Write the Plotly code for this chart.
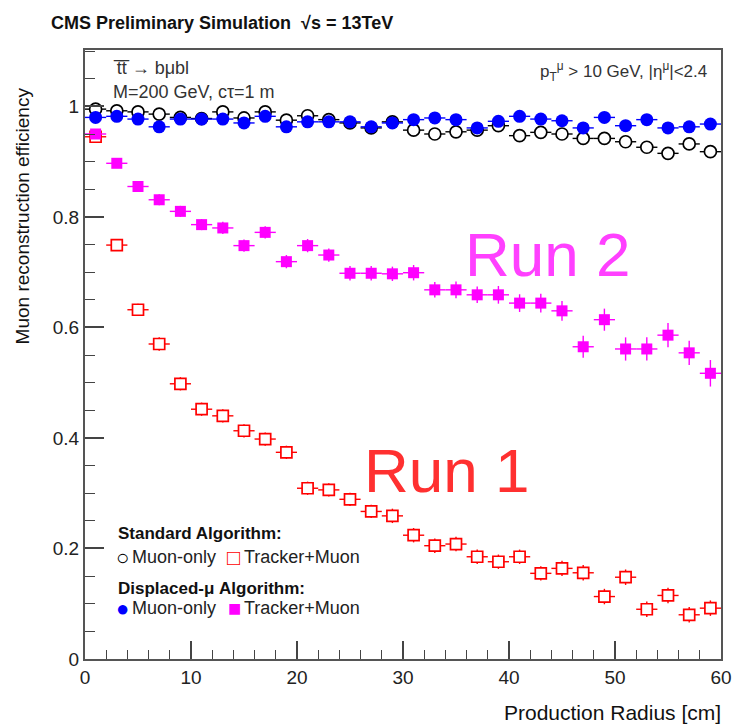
import plotly.graph_objects as go

# Bin centres of the production radius (2 cm bins)
radius = [1, 3, 5, 7, 9, 11, 13, 15, 17, 19, 21, 23, 25, 27, 29,
          31, 33, 35, 37, 39, 41, 43, 45, 47, 49, 51, 53, 55, 57, 59]
bin_half_width = [1] * 30

# Standard algorithm, muon-only (open black circles)
std_muon_only = [0.995, 0.992, 0.990, 0.986, 0.980, 0.978, 0.990, 0.979, 0.990, 0.975,
                 0.983, 0.976, 0.970, 0.961, 0.972, 0.957, 0.950, 0.954, 0.957, 0.965,
                 0.947, 0.953, 0.950, 0.942, 0.942, 0.936, 0.926, 0.915, 0.932, 0.918]
std_muon_only_err = [0.003, 0.003, 0.003, 0.003, 0.003, 0.003, 0.003, 0.003, 0.004, 0.004,
                     0.004, 0.004, 0.004, 0.004, 0.004, 0.005, 0.005, 0.005, 0.005, 0.005,
                     0.005, 0.005, 0.006, 0.006, 0.006, 0.006, 0.006, 0.007, 0.007, 0.007]

# Standard algorithm, tracker+muon (open red squares)
std_trk_muon = [0.945, 0.749, 0.632, 0.570, 0.498, 0.452, 0.440, 0.413, 0.398, 0.374,
                0.309, 0.306, 0.289, 0.267, 0.259, 0.224, 0.205, 0.208, 0.185, 0.176,
                0.185, 0.155, 0.164, 0.156, 0.113, 0.148, 0.090, 0.115, 0.080, 0.092]
std_trk_muon_err = [0.008, 0.010, 0.011, 0.012, 0.012, 0.012, 0.012, 0.012, 0.012, 0.012,
                    0.012, 0.012, 0.012, 0.012, 0.013, 0.013, 0.013, 0.013, 0.013, 0.013,
                    0.013, 0.013, 0.014, 0.014, 0.014, 0.014, 0.014, 0.014, 0.014, 0.014]

# Displaced-mu algorithm, muon-only (filled blue circles)
disp_muon_only = [0.980, 0.982, 0.977, 0.963, 0.977, 0.977, 0.977, 0.970, 0.982, 0.963,
                  0.972, 0.972, 0.972, 0.963, 0.970, 0.976, 0.979, 0.976, 0.961, 0.973,
                  0.982, 0.977, 0.974, 0.961, 0.980, 0.965, 0.976, 0.961, 0.963, 0.968]
disp_muon_only_err = [0.003, 0.003, 0.003, 0.003, 0.003, 0.003, 0.003, 0.003, 0.003, 0.004,
                      0.004, 0.004, 0.004, 0.004, 0.004, 0.004, 0.004, 0.004, 0.004, 0.005,
                      0.005, 0.005, 0.005, 0.005, 0.005, 0.005, 0.005, 0.005, 0.006, 0.006]

# Displaced-mu algorithm, tracker+muon (filled magenta squares)
disp_trk_muon = [0.950, 0.897, 0.855, 0.831, 0.810, 0.786, 0.780, 0.748, 0.772, 0.719,
                 0.748, 0.731, 0.698, 0.698, 0.697, 0.699, 0.668, 0.668, 0.659, 0.659,
                 0.644, 0.644, 0.630, 0.565, 0.614, 0.561, 0.561, 0.586, 0.554, 0.517]
disp_trk_muon_err = [0.006, 0.008, 0.009, 0.010, 0.010, 0.010, 0.011, 0.011, 0.011, 0.012,
                     0.012, 0.012, 0.013, 0.013, 0.013, 0.014, 0.014, 0.015, 0.015, 0.016,
                     0.016, 0.017, 0.018, 0.020, 0.020, 0.021, 0.021, 0.022, 0.022, 0.024]

FONT = "Liberation Sans, Arial, Helvetica, sans-serif"
BLACK = "#000000"
RED = "#ff0000"
BLUE = "#0000ff"
MAGENTA = "#ff00ff"


def series(y, err, symbol, fill, edge, size=12, lw=1.7):
    return go.Scatter(
        x=radius, y=y, mode="markers",
        marker=dict(symbol=symbol, size=size, color=fill,
                    line=dict(color=edge, width=lw)),
        error_x=dict(type="data", array=bin_half_width, color=edge,
                     thickness=1.4, width=0),
        error_y=dict(type="data", array=err, color=edge,
                     thickness=1.4, width=0),
        showlegend=False, cliponaxis=False,
    )


fig = go.Figure()
fig.add_trace(series(std_muon_only, std_muon_only_err, "circle", "white", BLACK))
fig.add_trace(series(std_trk_muon, std_trk_muon_err, "square", "white", RED, size=11))
fig.add_trace(series(disp_muon_only, disp_muon_only_err, "circle", BLUE, BLUE, size=13, lw=0))
fig.add_trace(series(disp_trk_muon, disp_trk_muon_err, "square", MAGENTA, MAGENTA, size=11, lw=0))

# plot frame in pixels: x 85..730, y 50..659
L, R, T, B = 85, 730, 50, 659


def px(xp):
    return (xp - L) / (R - L)


def py(yp):
    return (B - yp) / (B - T)


def note(text, xp, yp, size, color="#111", xanchor="left", yanchor="middle",
         angle=0, bold=False):
    if bold:
        text = "<b>" + text + "</b>"
    fig.add_annotation(text=text, x=px(xp), y=py(yp), xref="paper", yref="paper",
                       xanchor=xanchor, yanchor=yanchor, showarrow=False,
                       textangle=angle, font=dict(family=FONT, size=size, color=color))


note("CMS Preliminary Simulation  √s = 13TeV", 48, 23, 18, bold=True)
note("Muon reconstruction efficiency", 22, 85, 19, yanchor="top", xanchor="center", angle=-90)
note("Production Radius [cm]", 732, 712, 21, xanchor="right")
note("t\u0305t\u0305 → bμbl", 111, 68, 18, color="#333")
note("M=200 GeV, cτ=1 m", 111, 92, 18, color="#333")
note("p<sub>T</sub><sup>μ</sup> > 10 GeV, |η<sup>μ</sup>|<2.4", 718, 72, 17,
     color="#333", xanchor="right")
note("Run 2", 468, 254, 62, color="#ff40ff")
note("Run 1", 366, 470, 62, color="#ff3030")

# legend block
note("Standard Algorithm:", 116, 533, 17, bold=True)
note("○", 123, 557, 22, color=BLACK, xanchor="center")
note("Muon-only", 131, 557, 18, color="#222")
note("□", 236, 557, 22, color=RED, xanchor="center")
note("Tracker+Muon", 244, 557, 18, color="#222")
note("Displaced-μ Algorithm:", 116, 588, 17, bold=True)
note("●", 123, 608, 22, color=BLUE, xanchor="center")
note("Muon-only", 131, 608, 18, color="#222")
note("■", 237, 608, 22, color=MAGENTA, xanchor="center")
note("Tracker+Muon", 244, 608, 18, color="#222")

axis_common = dict(
    showline=True, linecolor="#555", linewidth=2, mirror=True,
    ticks="inside", tickcolor="#444", tickwidth=1.5,
    showgrid=False, zeroline=False,
    tickfont=dict(family=FONT, size=19, color="#222"),
)

fig.update_xaxes(range=[0, 60], dtick=10, tick0=0, ticklen=18,
                 minor=dict(dtick=2, ticklen=9, ticks="inside", tickcolor="#444",
                            tickwidth=1.2, showgrid=False),
                 **axis_common)
fig.update_yaxes(range=[0, 1.102], dtick=0.2, tick0=0, ticklen=19,
                 minor=dict(dtick=0.05, ticklen=10, ticks="inside", tickcolor="#444",
                            tickwidth=1.2, showgrid=False),
                 **axis_common)

fig.update_layout(
    width=744, height=724,
    margin=dict(l=L, r=744 - R, t=T, b=724 - B, pad=0),
    paper_bgcolor="white", plot_bgcolor="white",
    font=dict(family=FONT),
)

fig.write_html("out.html")
